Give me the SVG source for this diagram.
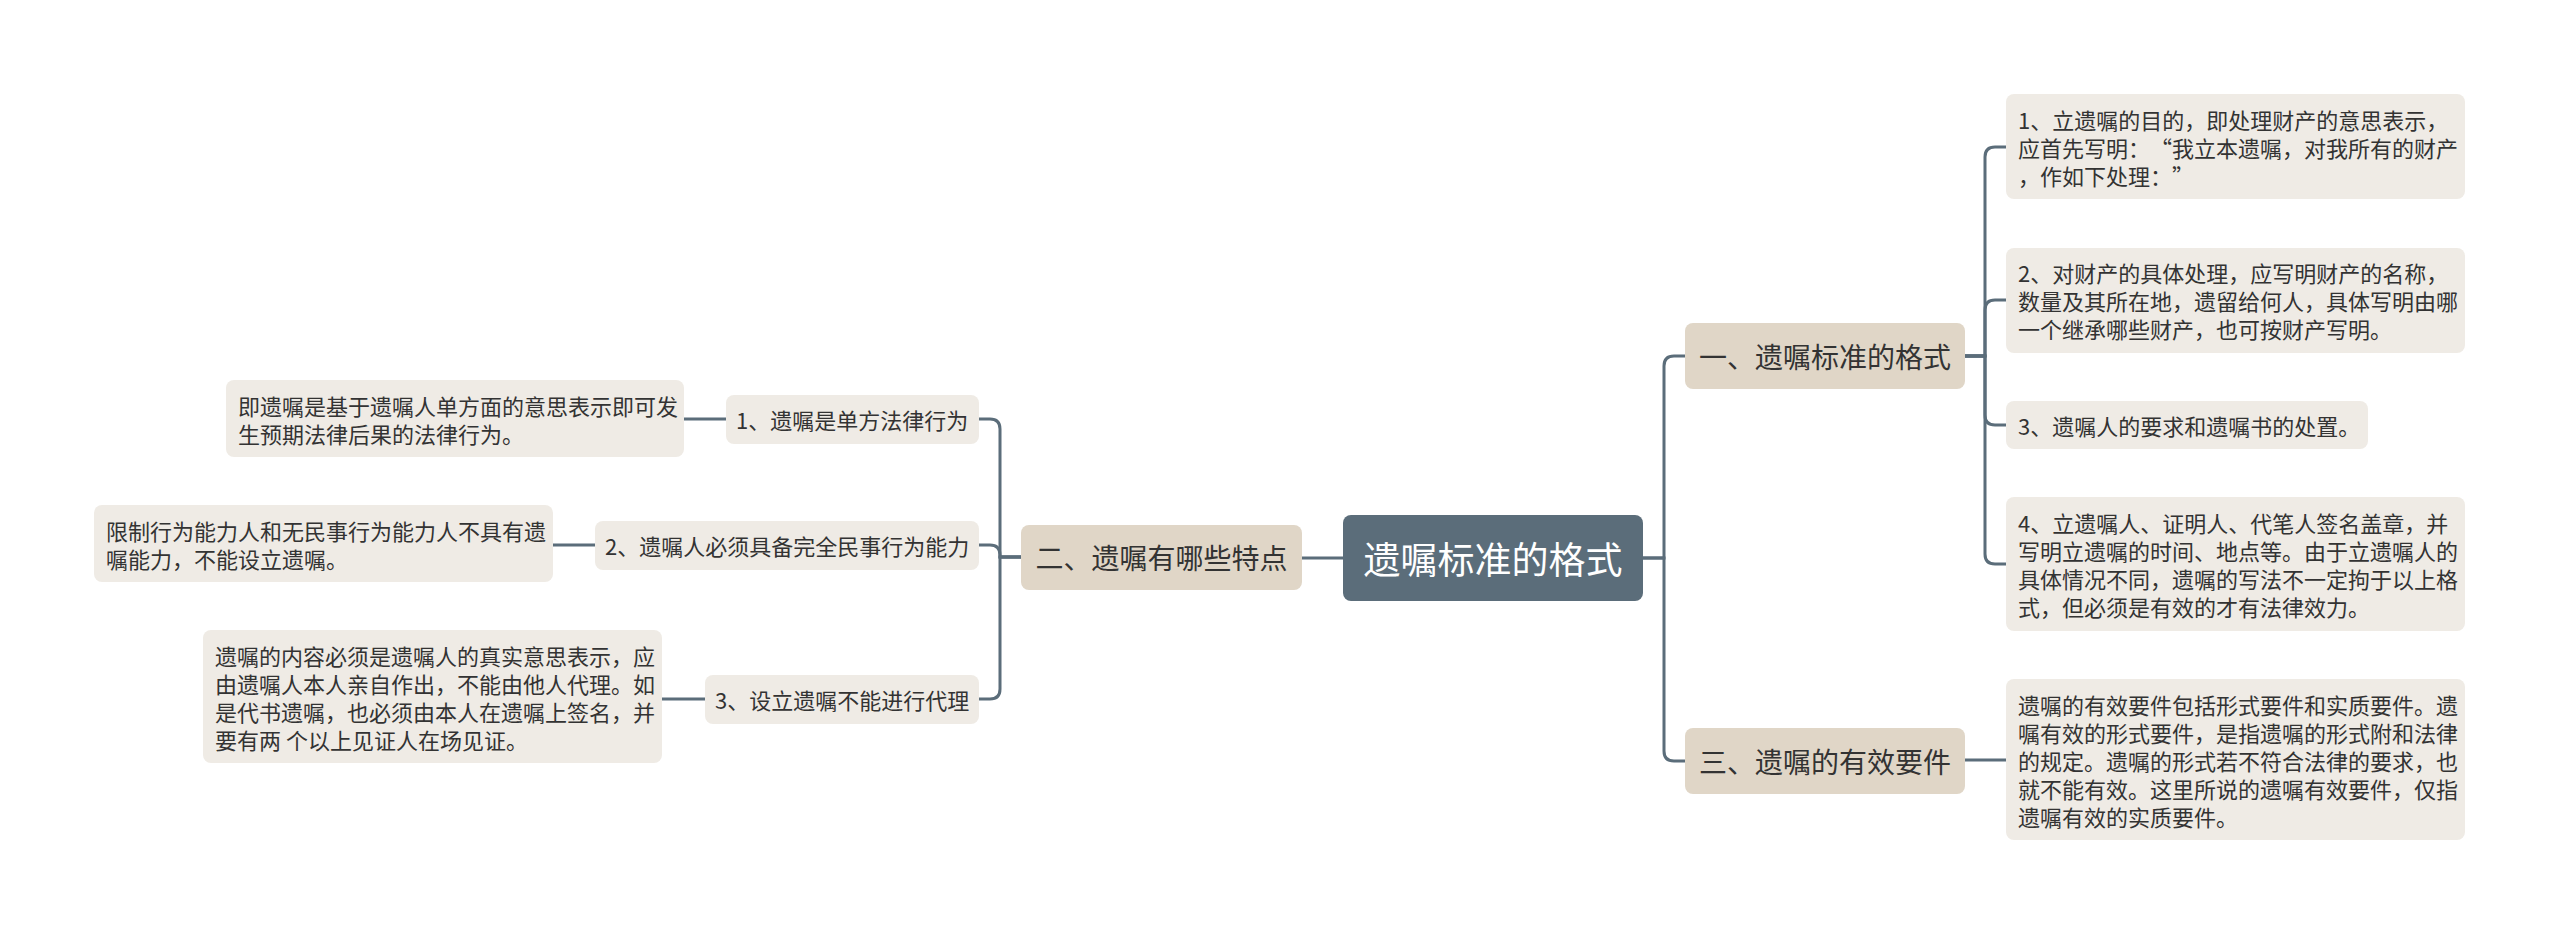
<svg xmlns="http://www.w3.org/2000/svg" width="2560" height="935" viewBox="0 0 2560 935">
<style>
.bg{fill:#ffffff}
.root rect{fill:#5b6d7a}
.root text{fill:#ffffff;font-size:37px}
.br rect{fill:#e0d6c7}
.br text{fill:#333333;font-size:28px}
.lf rect{fill:#efebe5}
.lf text{fill:#333333;font-size:22px}
text{font-family:"Noto Sans CJK SC","Noto Sans",sans-serif;dominant-baseline:central;text-spacing-trim:space-all}
.c{text-anchor:middle}
#connectors path{fill:none;stroke:#5b6d7a;stroke-width:3;stroke-linecap:round}
</style>
<rect class="bg" x="0" y="0" width="2560" height="935"/>
<g id="connectors">
<path d="M1343,558 H1302"/>
<path d="M1643,558 H1664 V366 Q1664,356 1674,356 H1685"/>
<path d="M1643,558 H1664 V751 Q1664,761 1674,761 H1685"/>
<path d="M1021,557 H1000 V429 Q1000,419 990,419 H979"/>
<path d="M1021,557 H1000 V555 Q1000,545 990,545 H979"/>
<path d="M1021,557 H1000 V689 Q1000,699 990,699 H979"/>
<path d="M1965,356 H1985 V157 Q1985,147 1995,147 H2006"/>
<path d="M1965,356 H1985 V310 Q1985,300 1995,300 H2006"/>
<path d="M1965,356 H1985 V415 Q1985,425 1995,425 H2006"/>
<path d="M1965,356 H1985 V554 Q1985,564 1995,564 H2006"/>
<path d="M1965,760 H2006"/>
<path d="M726,419 H684"/>
<path d="M595,545 H553"/>
<path d="M705,699 H662"/>
</g>
<g id="root" class="root">
<rect x="1343" y="515" width="300" height="86" rx="8"/>
<text class="c" x="1493" y="558">遗嘱标准的格式</text>
</g>
<g id="b1" class="br">
<rect x="1685" y="323" width="280" height="66" rx="8"/>
<text class="c" x="1825" y="356">一、遗嘱标准的格式</text>
</g>
<g id="b2" class="br">
<rect x="1021" y="525" width="281" height="65" rx="8"/>
<text class="c" x="1161.5" y="557">二、遗嘱有哪些特点</text>
</g>
<g id="b3" class="br">
<rect x="1685" y="728" width="280" height="66" rx="8"/>
<text class="c" x="1825" y="761">三、遗嘱的有效要件</text>
</g>
<g id="r1" class="lf">
<rect x="2006" y="94" width="459" height="105" rx="8"/>
<text x="2018" y="119">1、立遗嘱的目的，即处理财产的意思表示，</text>
<text x="2018" y="147">应首先写明：“我立本遗嘱，对我所有的财产</text>
<text x="2018" y="175">，作如下处理：”</text>
</g>
<g id="r2" class="lf">
<rect x="2006" y="248" width="459" height="105" rx="8"/>
<text x="2018" y="272">2、对财产的具体处理，应写明财产的名称，</text>
<text x="2018" y="300">数量及其所在地，遗留给何人，具体写明由哪</text>
<text x="2018" y="328">一个继承哪些财产，也可按财产写明。</text>
</g>
<g id="r3" class="lf">
<rect x="2006" y="401" width="362" height="48" rx="8"/>
<text x="2018" y="425">3、遗嘱人的要求和遗嘱书的处置。</text>
</g>
<g id="r4" class="lf">
<rect x="2006" y="497" width="459" height="134" rx="8"/>
<text x="2018" y="522">4、立遗嘱人、证明人、代笔人签名盖章，并</text>
<text x="2018" y="550">写明立遗嘱的时间、地点等。由于立遗嘱人的</text>
<text x="2018" y="578">具体情况不同，遗嘱的写法不一定拘于以上格</text>
<text x="2018" y="606">式，但必须是有效的才有法律效力。</text>
</g>
<g id="r5" class="lf">
<rect x="2006" y="679" width="459" height="161" rx="8"/>
<text x="2018" y="704">遗嘱的有效要件包括形式要件和实质要件。遗</text>
<text x="2018" y="732">嘱有效的形式要件，是指遗嘱的形式附和法律</text>
<text x="2018" y="760">的规定。遗嘱的形式若不符合法律的要求，也</text>
<text x="2018" y="788">就不能有效。这里所说的遗嘱有效要件，仅指</text>
<text x="2018" y="816">遗嘱有效的实质要件。</text>
</g>
<g id="l1" class="lf">
<rect x="726" y="395" width="253" height="49" rx="8"/>
<text x="736" y="419">1、遗嘱是单方法律行为</text>
</g>
<g id="l2" class="lf">
<rect x="595" y="521" width="384" height="49" rx="8"/>
<text x="605" y="545">2、遗嘱人必须具备完全民事行为能力</text>
</g>
<g id="l3" class="lf">
<rect x="705" y="675" width="274" height="49" rx="8"/>
<text x="715" y="699">3、设立遗嘱不能进行代理</text>
</g>
<g id="ll1" class="lf">
<rect x="226" y="380" width="458" height="77" rx="8"/>
<text x="238" y="405">即遗嘱是基于遗嘱人单方面的意思表示即可发</text>
<text x="238" y="433">生预期法律后果的法律行为。</text>
</g>
<g id="ll2" class="lf">
<rect x="94" y="505" width="459" height="77" rx="8"/>
<text x="106" y="530">限制行为能力人和无民事行为能力人不具有遗</text>
<text x="106" y="558">嘱能力，不能设立遗嘱。</text>
</g>
<g id="ll3" class="lf">
<rect x="203" y="630" width="459" height="133" rx="8"/>
<text x="215" y="655">遗嘱的内容必须是遗嘱人的真实意思表示，应</text>
<text x="215" y="683">由遗嘱人本人亲自作出，不能由他人代理。如</text>
<text x="215" y="711">是代书遗嘱，也必须由本人在遗嘱上签名，并</text>
<text x="215" y="739">要有两 个以上见证人在场见证。</text>
</g>
</svg>
